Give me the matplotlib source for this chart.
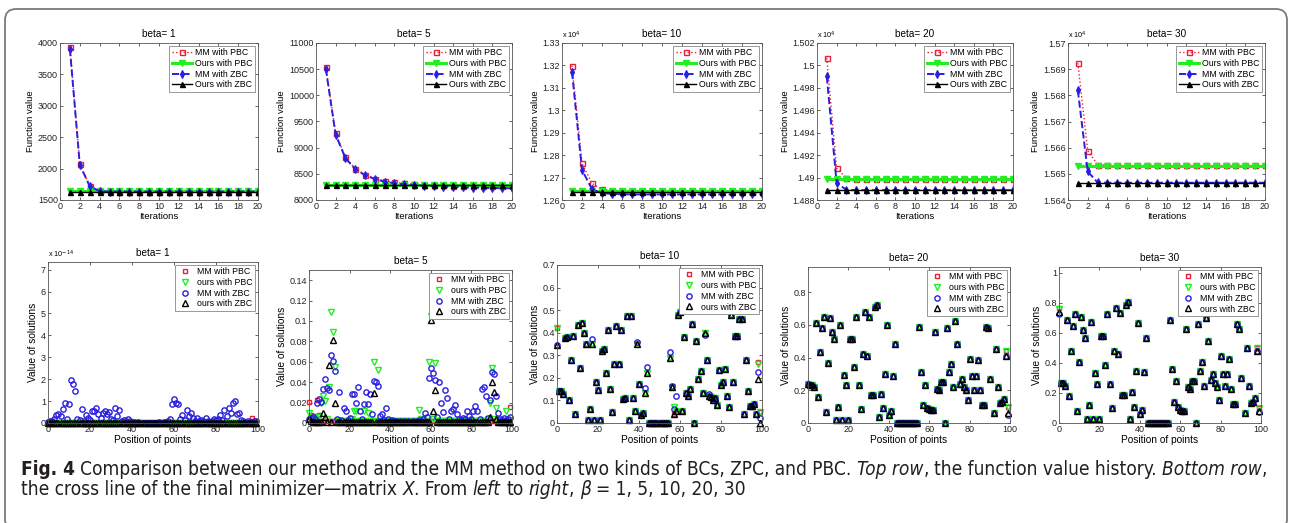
import matplotlib
matplotlib.use('Agg')
import matplotlib.pyplot as plt
from matplotlib import font_manager as fm
from matplotlib.patches import FancyBboxPatch
from matplotlib.transforms import IdentityTransform
from matplotlib.ticker import FuncFormatter, FixedLocator

# ---------------- data: top row (function value history) ----------------
iters = list(range(1, 21))

mm_pbc_1 = [3930, 2070, 1725, 1640, 1636, 1635, 1635, 1635, 1635, 1635, 1635, 1635, 1635, 1635, 1635, 1635, 1635, 1635, 1635, 1635]
ours_pbc_1 = [1636] * 20
mm_zbc_1 = [3905, 2060, 1720, 1638, 1635, 1634, 1634, 1634, 1634, 1634, 1634, 1634, 1634, 1634, 1634, 1634, 1634, 1634, 1634, 1634]
ours_zbc_1 = [1633] * 20

mm_pbc_5 = [10540, 9280, 8815, 8600, 8485, 8410, 8365, 8335, 8318, 8305, 8295, 8288, 8282, 8277, 8272, 8268, 8264, 8262, 8260, 8258]
ours_pbc_5 = [8290] * 20
mm_zbc_5 = [10510, 9250, 8800, 8590, 8475, 8400, 8350, 8320, 8300, 8285, 8272, 8262, 8254, 8247, 8241, 8236, 8232, 8229, 8226, 8224]
ours_zbc_5 = [8285] * 20

# beta = 10, 20, 30 in units of 10^4
mm_pbc_10 = [1.3199, 1.2764, 1.2674, 1.2647, 1.2642, 1.2641, 1.2640, 1.2640, 1.2640, 1.2640, 1.2640, 1.2640, 1.2640, 1.2640, 1.2640, 1.2640, 1.2640, 1.2640, 1.2640, 1.2640]
ours_pbc_10 = [1.2641] * 20
mm_zbc_10 = [1.3171, 1.2734, 1.2648, 1.2630, 1.2627, 1.2626, 1.2625, 1.2625, 1.2625, 1.2625, 1.2625, 1.2625, 1.2625, 1.2625, 1.2625, 1.2625, 1.2625, 1.2625, 1.2625, 1.2625]
ours_zbc_10 = [1.2634] * 20

mm_pbc_20 = [1.50066, 1.49083, 1.48994, 1.48987, 1.48985, 1.48985, 1.48985, 1.48985, 1.48985, 1.48985, 1.48985, 1.48985, 1.48985, 1.48985, 1.48985, 1.48985, 1.48985, 1.48985, 1.48985, 1.48985]
ours_pbc_20 = [1.48985] * 20
mm_zbc_20 = [1.49902, 1.48955, 1.48890, 1.48888, 1.48888, 1.48888, 1.48888, 1.48888, 1.48888, 1.48888, 1.48888, 1.48888, 1.48888, 1.48888, 1.48888, 1.48888, 1.48888, 1.48888, 1.48888, 1.48888]
ours_zbc_20 = [1.48889] * 20

mm_pbc_30 = [1.56923, 1.56589, 1.56535, 1.56533, 1.56532, 1.56532, 1.56532, 1.56532, 1.56532, 1.56532, 1.56532, 1.56532, 1.56532, 1.56532, 1.56532, 1.56532, 1.56532, 1.56532, 1.56532, 1.56532]
ours_pbc_30 = [1.56531] * 20
mm_zbc_30 = [1.56819, 1.56509, 1.56467, 1.56466, 1.56466, 1.56466, 1.56466, 1.56466, 1.56466, 1.56466, 1.56466, 1.56466, 1.56466, 1.56466, 1.56466, 1.56466, 1.56466, 1.56466, 1.56466, 1.56466]
ours_zbc_30 = [1.56466] * 20

# ---------------- data: bottom row (cross line of the minimizer) ----------------
pos = list(range(100))

# beta = 1, in units of 10^-14
mm_zbc_b1 = [0.05, 0.1, 0.1, 0.2, 0.35, 0.4, 0.3, 0.65, 0.9, 0.2,
             0.85, 1.95, 1.8, 1.45, 0.2, 0.15, 0.65, 0.1, 0.35, 0.25,
             0.15, 0.55, 0.55, 0.7, 0.4, 0.25, 0.45, 0.55, 0.4, 0.5,
             0.2, 0.15, 0.7, 0.3, 0.6, 0.1, 0.15, 0.1, 0.2, 0.1,
             0.05, 0.03, 0.02, 0.03, 0.02, 0.01, 0.02, 0.01, 0.02, 0.01,
             0.02, 0.01, 0.02, 0.03, 0.02, 0.03, 0.05, 0.1, 0.2, 0.85,
             1.1, 0.9, 0.85, 0.2, 0.35, 0.15, 0.6, 0.3, 0.45, 0.25,
             0.1, 0.25, 0.1, 0.15, 0.1, 0.25, 0.1, 0.05, 0.1, 0.2,
             0.15, 0.2, 0.35, 0.15, 0.6, 0.3, 0.7, 0.45, 0.9, 1.0,
             0.4, 0.45, 0.15, 0.1, 0.05, 0.1, 0.05, 0.05, 0.1, 0.1]
zero_b1 = [0.0] * 100
mm_pbc_b1_diff = {97: 0.25}

# beta = 5
mm_zbc_b5 = [0.004, 0.005, 0.006, 0.004, 0.020, 0.024, 0.021, 0.033, 0.043, 0.034,
             0.032, 0.067, 0.061, 0.051, 0.004, 0.030, 0.003, 0.015, 0.012, 0.003,
             0.005, 0.028, 0.028, 0.020, 0.035, 0.012, 0.004, 0.019, 0.030, 0.019,
             0.028, 0.009, 0.041, 0.040, 0.036, 0.007, 0.009, 0.003, 0.015, 0.004,
             0.002, 0.003, 0.002, 0.002, 0.001, 0.002, 0.001, 0.002, 0.001, 0.002,
             0.001, 0.002, 0.001, 0.002, 0.003, 0.002, 0.004, 0.010, 0.006, 0.044,
             0.054, 0.049, 0.042, 0.006, 0.040, 0.020, 0.011, 0.032, 0.025, 0.004,
             0.012, 0.014, 0.018, 0.009, 0.004, 0.003, 0.005, 0.004, 0.012, 0.007,
             0.004, 0.012, 0.017, 0.012, 0.004, 0.033, 0.035, 0.026, 0.005, 0.023,
             0.050, 0.048, 0.026, 0.010, 0.004, 0.003, 0.005, 0.003, 0.004, 0.006]
mm_pbc_b5_base = 0.002
mm_pbc_b5_diff = {0: 0.021, 1: 0.008, 2: 0.007, 3: 0.007, 4: 0.023, 5: 0.008, 98: 0.004, 99: 0.016}
ours_pbc_b5_base = 0.002
ours_pbc_b5_diff = {0: 0.010, 1: 0.005, 4: 0.004, 5: 0.006, 6: 0.020, 7: 0.026, 8: 0.022, 9: 0.004,
                    10: 0.035, 11: 0.109, 12: 0.089, 13: 0.055, 21: 0.004, 22: 0.012, 23: 0.012,
                    27: 0.012, 29: 0.010, 32: 0.060, 34: 0.052, 54: 0.013, 55: 0.004, 59: 0.060,
                    60: 0.105, 61: 0.004, 62: 0.059, 88: 0.004, 89: 0.020, 90: 0.054, 91: 0.004,
                    92: 0.015, 97: 0.012, 98: 0.003}
ours_zbc_b5_base = 0.0005
ours_zbc_b5_diff = {0: 0.004, 1: 0.002, 7: 0.010, 8: 0.006, 10: 0.057, 12: 0.081, 13: 0.020,
                    32: 0.029, 60: 0.101, 61: 0.012, 62: 0.032, 89: 0.006, 90: 0.040, 91: 0.030, 92: 0.004}

# beta = 10
ours_zbc_b10 = [0.345, 0.14, 0.14, 0.13, 0.375, 0.38, 0.10, 0.28, 0.385, 0.04,
                0.435, 0.245, 0.445, 0.40, 0.35, 0.015, 0.06, 0.35, 0.015, 0.18,
                0.145, 0.015, 0.32, 0.33, 0.22, 0.41, 0.15, 0.05, 0.26, 0.43,
                0.26, 0.41, 0.105, 0.11, 0.475, 0.015, 0.475, 0.11, 0.055, 0.35,
                0.175, 0.035, 0.045, 0.135, 0.22, 0.0, 0.0, 0.0, 0.0, 0.0,
                0.0, 0.0, 0.0, 0.0, 0.0, 0.29, 0.16, 0.04, 0.055, 0.48,
                0.49, 0.055, 0.38, 0.135, 0.12, 0.15, 0.44, 0.0, 0.365, 0.195,
                0.23, 0.135, 0.40, 0.28, 0.12, 0.115, 0.10, 0.11, 0.08, 0.235,
                0.17, 0.18, 0.24, 0.12, 0.07, 0.48, 0.18, 0.385, 0.385, 0.46,
                0.46, 0.04, 0.28, 0.14, 0.075, 0.075, 0.085, 0.04, 0.195, 0.0]
mm_zbc_b10_diff = {17: 0.37, 39: 0.36, 43: 0.155, 44: 0.25, 55: 0.315, 56: 0.165, 57: 0.06,
                   58: 0.12, 72: 0.39, 74: 0.13, 98: 0.225, 99: 0.02}
ours_pbc_b10_diff = {0: 0.42, 57: 0.07, 98: 0.26, 99: 0.05}
mm_pbc_b10_diff = {0: 0.42, 98: 0.27, 99: 0.05}

# beta = 20
ours_zbc_b20 = [0.24, 0.235, 0.235, 0.22, 0.61, 0.16, 0.435, 0.58, 0.65, 0.067,
                0.366, 0.64, 0.56, 0.515, 0.02, 0.10, 0.60, 0.02, 0.295, 0.23,
                0.02, 0.517, 0.517, 0.345, 0.647, 0.235, 0.087, 0.42, 0.68, 0.41,
                0.65, 0.17, 0.17, 0.71, 0.72, 0.035, 0.18, 0.09, 0.30, 0.60,
                0.05, 0.075, 0.29, 0.485, 0.0, 0.0, 0.0, 0.0, 0.0, 0.0,
                0.0, 0.0, 0.0, 0.0, 0.0, 0.59, 0.31, 0.11, 0.235, 0.09,
                0.085, 0.08, 0.08, 0.56, 0.21, 0.20, 0.25, 0.25, 0.0, 0.58,
                0.31, 0.36, 0.22, 0.625, 0.485, 0.24, 0.27, 0.22, 0.20, 0.143,
                0.39, 0.285, 0.205, 0.29, 0.385, 0.20, 0.11, 0.11, 0.59, 0.58,
                0.27, 0.68, 0.06, 0.45, 0.22, 0.12, 0.13, 0.148, 0.41, 0.06]
mm_zbc_b20_diff = {99: 0.05}
ours_pbc_b20_diff = {98: 0.44, 99: 0.095}
mm_pbc_b20_diff = {98: 0.44, 99: 0.095}

# beta = 30
ours_zbc_b30 = [0.74, 0.27, 0.27, 0.25, 0.69, 0.18, 0.48, 0.65, 0.73, 0.08,
                0.405, 0.71, 0.62, 0.57, 0.025, 0.12, 0.675, 0.03, 0.335, 0.26,
                0.025, 0.58, 0.58, 0.385, 0.725, 0.26, 0.10, 0.48, 0.77, 0.46,
                0.735, 0.185, 0.185, 0.785, 0.81, 0.03, 0.205, 0.105, 0.35, 0.67,
                0.06, 0.088, 0.34, 0.57, 0.0, 0.0, 0.0, 0.0, 0.0, 0.0,
                0.0, 0.0, 0.0, 0.0, 0.0, 0.685, 0.36, 0.14, 0.28, 0.105,
                0.09, 0.083, 0.083, 0.625, 0.24, 0.225, 0.28, 0.28, 0.0, 0.66,
                0.35, 0.405, 0.245, 0.70, 0.55, 0.29, 0.33, 0.27, 0.24, 0.155,
                0.445, 0.325, 0.245, 0.33, 0.43, 0.225, 0.125, 0.125, 0.66, 0.63,
                0.30, 0.76, 0.065, 0.50, 0.25, 0.135, 0.14, 0.17, 0.48, 0.08]
mm_zbc_b30_diff = {0: 0.73, 99: 0.075}
ours_pbc_b30_diff = {0: 0.76, 98: 0.50, 99: 0.10}
mm_pbc_b30_diff = {0: 0.77, 98: 0.50, 99: 0.10}

# ---------------- figure ----------------
W, H = 1291, 523
plt.rcParams['font.family'] = ['Liberation Sans', 'DejaVu Sans']
fig = plt.figure(figsize=(W / 100, H / 100), dpi=100)

RED = '#e8203a'
GREEN = '#22ee22'
BLUE = '#2a1ee0'
BLACK = '#000000'


def rect(l, r, t, b):
    return [l / W, 1 - b / H, (r - l) / W, (b - t) / H]


def apply(base, diff):
    out = list(base)
    for k, v in diff.items():
        out[k] = v
    return out


fmt = FuncFormatter(lambda v, p: '%g' % round(v, 6))


def style_axes(ax, title, xlabel, ylabel, lab_fs):
    ax.set_title(title, fontsize=7.2, pad=4)
    ax.set_xlabel(xlabel, fontsize=lab_fs, labelpad=0.5)
    ax.set_ylabel(ylabel, fontsize=lab_fs, labelpad=2)
    ax.tick_params(direction='in', top=True, right=True, length=2.5, width=0.5,
                   labelsize=6.5, pad=1.5, colors='#222222')
    for s in ax.spines.values():
        s.set_linewidth(0.6)
        s.set_color('#555555')
    ax.yaxis.set_major_formatter(fmt)


def top_panel(rc, title, mmp, oursp, mmz, oursz, ylim, yticks, mult=None):
    ax = fig.add_axes(rect(*rc))
    ax.plot(iters, mmp, ':', color=RED, lw=1.0, marker='s', ms=3.6, mfc='none', mew=1.0,
            label='MM with PBC')
    ax.plot(iters, oursp, '-', color=GREEN, lw=2.2, marker='v', ms=3.8, mfc=GREEN,
            label='Ours with PBC')
    ax.plot(iters, mmz, '--', color=BLUE, lw=1.4, marker='d', ms=4.2, mfc=BLUE, mew=0.8,
            label='MM with ZBC')
    ax.plot(iters, oursz, '-', color=BLACK, lw=1.0, marker='^', ms=3.6, mfc=BLACK,
            label='Ours with ZBC')
    ax.set_xlim(0, 20)
    ax.set_ylim(*ylim)
    ax.xaxis.set_major_locator(FixedLocator(list(range(0, 21, 2))))
    ax.yaxis.set_major_locator(FixedLocator(yticks))
    style_axes(ax, title, 'Iterations', 'Function value', 6.8)
    if mult:
        ax.text(0.0, 1.015, mult, transform=ax.transAxes, fontsize=5.2, ha='left', va='bottom')
    leg = ax.legend(loc='upper right', fontsize=6.3, fancybox=False, edgecolor='#888888',
                    framealpha=1, borderpad=0.3, labelspacing=0.2, handlelength=2.3,
                    handletextpad=0.4, borderaxespad=0.3)
    leg.get_frame().set_linewidth(0.6)
    return ax


def bottom_panel(rc, title, mmp, oursp, mmz, oursz, ylim, yticks, mult=None):
    ax = fig.add_axes(rect(*rc))
    kw = dict(ls='none', mfc='none', mew=1.0, clip_on=False)
    ax.plot(pos, mmp, marker='s', color=RED, ms=3.5, label='MM with PBC', **kw)
    ax.plot(pos, oursp, marker='v', color=GREEN, ms=4.0, label='ours with PBC', **kw)
    ax.plot(pos, mmz, marker='o', color=BLUE, ms=3.8, label='MM with ZBC', **kw)
    ax.plot(pos, oursz, marker='^', color=BLACK, ms=3.8, label='ours with ZBC', **kw)
    ax.set_xlim(0, 100)
    ax.set_ylim(*ylim)
    ax.xaxis.set_major_locator(FixedLocator(list(range(0, 101, 20))))
    ax.yaxis.set_major_locator(FixedLocator(yticks))
    style_axes(ax, title, 'Position of points', 'Value of solutions', 7.3)
    if mult:
        ax.text(0.0, 1.015, mult, transform=ax.transAxes, fontsize=5.2, ha='left', va='bottom')
    leg = ax.legend(loc='upper right', fontsize=6.3, fancybox=False, edgecolor='#888888',
                    framealpha=1, borderpad=0.3, labelspacing=0.2, handlelength=1.6,
                    handletextpad=0.6, borderaxespad=0.3)
    leg.get_frame().set_linewidth(0.6)
    return ax


# top row
top_panel((60, 258, 43, 200), 'beta= 1', mm_pbc_1, ours_pbc_1, mm_zbc_1, ours_zbc_1,
          (1500, 4000), [1500, 2000, 2500, 3000, 3500, 4000])
top_panel((316, 512, 43, 200), 'beta= 5', mm_pbc_5, ours_pbc_5, mm_zbc_5, ours_zbc_5,
          (8000, 11000), [8000, 8500, 9000, 9500, 10000, 10500, 11000])
top_panel((562, 762, 43, 200), 'beta= 10', mm_pbc_10, ours_pbc_10, mm_zbc_10, ours_zbc_10,
          (1.26, 1.33), [1.26, 1.27, 1.28, 1.29, 1.30, 1.31, 1.32, 1.33], r'x 10$^{4}$')
top_panel((817, 1013, 43, 200), 'beta= 20', mm_pbc_20, ours_pbc_20, mm_zbc_20, ours_zbc_20,
          (1.488, 1.502), [1.488, 1.490, 1.492, 1.494, 1.496, 1.498, 1.500, 1.502], r'x 10$^{4}$')
top_panel((1068, 1265, 43, 200), 'beta= 30', mm_pbc_30, ours_pbc_30, mm_zbc_30, ours_zbc_30,
          (1.564, 1.570), [1.564, 1.565, 1.566, 1.567, 1.568, 1.569, 1.570], r'x 10$^{4}$')

# bottom row
bottom_panel((48, 258, 262, 423), 'beta= 1', apply(zero_b1, mm_pbc_b1_diff), zero_b1,
             mm_zbc_b1, zero_b1, (0, 7.35), [0, 1, 2, 3, 4, 5, 6, 7], r'x 10$^{-14}$')
bottom_panel((309, 512, 270, 423), 'beta= 5',
             apply([mm_pbc_b5_base] * 100, mm_pbc_b5_diff),
             apply([ours_pbc_b5_base] * 100, ours_pbc_b5_diff),
             mm_zbc_b5,
             apply([ours_zbc_b5_base] * 100, ours_zbc_b5_diff),
             (0, 0.15), [0, 0.02, 0.04, 0.06, 0.08, 0.10, 0.12, 0.14])
bottom_panel((557, 762, 265, 423), 'beta= 10',
             apply(ours_zbc_b10, mm_pbc_b10_diff), apply(ours_zbc_b10, ours_pbc_b10_diff),
             apply(ours_zbc_b10, mm_zbc_b10_diff), ours_zbc_b10,
             (0, 0.7), [0, 0.1, 0.2, 0.3, 0.4, 0.5, 0.6, 0.7])
bottom_panel((808, 1010, 267, 423), 'beta= 20',
             apply(ours_zbc_b20, mm_pbc_b20_diff), apply(ours_zbc_b20, ours_pbc_b20_diff),
             apply(ours_zbc_b20, mm_zbc_b20_diff), ours_zbc_b20,
             (0, 0.955), [0, 0.2, 0.4, 0.6, 0.8])
bottom_panel((1059, 1261, 267, 423), 'beta= 30',
             apply(ours_zbc_b30, mm_pbc_b30_diff), apply(ours_zbc_b30, ours_pbc_b30_diff),
             apply(ours_zbc_b30, mm_zbc_b30_diff), ours_zbc_b30,
             (0, 1.04), [0, 0.2, 0.4, 0.6, 0.8, 1.0])

# frame
frame = FancyBboxPatch((5, H - 530), 1282, 521, boxstyle='round,pad=0,rounding_size=11',
                       transform=IdentityTransform(), fill=False, ec='#7a7a7a', lw=1.3)
fig.add_artist(frame)

# caption font: prefer a narrow sans face
names = {f.name for f in fm.fontManager.ttflist}
cond_dejavu = any(f.name == 'DejaVu Sans' and f.stretch == 'condensed' for f in fm.fontManager.ttflist)
if 'Liberation Sans Narrow' in names:
    CAP_FONT = ['Liberation Sans Narrow', 'DejaVu Sans']
    CAP_STRETCH = 'normal'
elif cond_dejavu:
    CAP_FONT = ['DejaVu Sans']
    CAP_STRETCH = 'condensed'
else:
    CAP_FONT = ['Open Sans', 'DejaVu Sans']
    CAP_STRETCH = 'normal'

line1 = [('Fig. 4', 'bold', 'normal', False),
         ('Comparison between our method and the MM method on two kinds of BCs, ZPC, and PBC.', 'normal', 'normal', True),
         ('Top row', 'normal', 'italic', True),
         (',', 'normal', 'normal', False),
         ('the function value history.', 'normal', 'normal', True),
         ('Bottom row', 'normal', 'italic', True),
         (',', 'normal', 'normal', False)]
line2 = [('the cross line of the final minimizer\u2014matrix', 'normal', 'normal', False),
         ('X', 'normal', 'italic', True),
         ('. From', 'normal', 'normal', False),
         ('left', 'normal', 'italic', True),
         ('to', 'normal', 'normal', True),
         ('right', 'normal', 'italic', True),
         (',', 'normal', 'normal', False),
         ('\u03b2', 'normal', 'italic', True),
         ('= 1, 5, 10, 20, 30', 'normal', 'normal', True)]

renderer = fig.canvas.get_renderer()


def make_text(x, y, s, size, weight, style, **kw):
    return fig.text(x, y, s, fontsize=size, fontweight=weight, fontstyle=style,
                    family=CAP_FONT, fontstretch=CAP_STRETCH, **kw)


def measure(s, size, weight='normal', style='normal'):
    t = make_text(0, 0, s, size, weight, style)
    w = t.get_window_extent(renderer=renderer).width
    t.remove()
    return w


def line_width(segs, size):
    sp = measure('a a', size) - measure('aa', size)
    tot = 0
    for s, wgt, sty, spb in segs:
        if spb:
            tot += sp
        tot += measure(s, size, wgt, sty)
    return tot


def draw_line(segs, x0, ybase, size):
    sp = measure('a a', size) - measure('aa', size)
    x = x0
    for s, wgt, sty, spb in segs:
        if spb:
            x += sp
        t = make_text(x / W, 1 - ybase / H, s, size, wgt, sty,
                      va='baseline', ha='left', color='#231f20')
        x += t.get_window_extent(renderer=renderer).width


trial = 10.0
wl = line_width(line1, trial)
cap_size = trial * (1265 - 21) / wl
draw_line(line1, 21, 475, cap_size)
draw_line(line2, 21, 495, cap_size)

fig.savefig('out.png', dpi=100)
